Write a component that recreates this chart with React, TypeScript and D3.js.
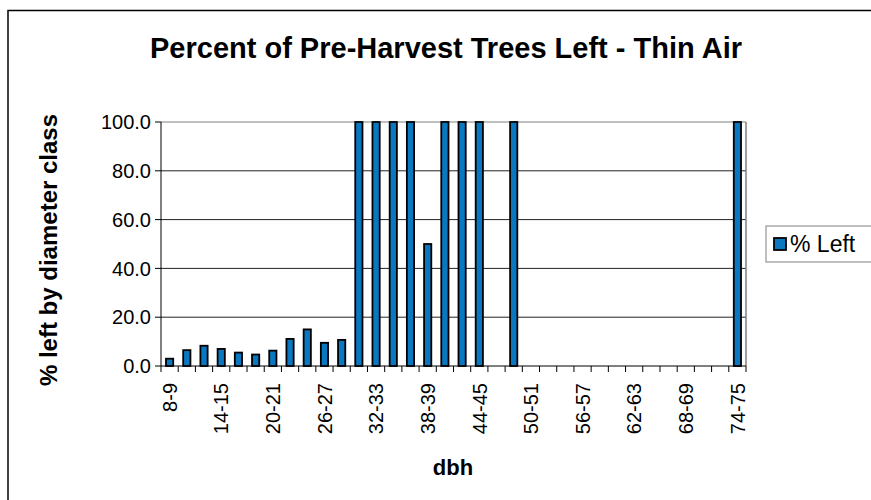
import React from "react";
import * as d3 from "d3";

const categories = [
  "8-9", "10-11", "12-13", "14-15", "16-17", "18-19", "20-21", "22-23", "24-25", "26-27",
  "28-29", "30-31", "32-33", "34-35", "36-37", "38-39", "40-41", "42-43", "44-45", "46-47",
  "48-49", "50-51", "52-53", "54-55", "56-57", "58-59", "60-61", "62-63", "64-65", "66-67",
  "68-69", "70-71", "72-73", "74-75",
];
const percentLeft = [
  3.0, 6.5, 8.3, 7.0, 5.5, 4.7, 6.3, 11.1, 15.0, 9.5,
  10.7, 100, 100, 100, 100, 50, 100, 100, 100, 0,
  100, 0, 0, 0, 0, 0, 0, 0, 0, 0,
  0, 0, 0, 100,
];
const shownTickLabels = ["8-9", "14-15", "20-21", "26-27", "32-33", "38-39", "44-45", "50-51", "56-57", "62-63", "68-69", "74-75"];
const yTicks = [0, 20, 40, 60, 80, 100];

const FONT = "'Liberation Sans', Arial, Helvetica, sans-serif";
const BAR = "#0a78c0";

export default function App() {
  const left = 161, right = 746, top = 122, bottom = 366;
  const x = d3.scaleBand<string>().domain(categories).range([left, right]).paddingInner(0).paddingOuter(0);
  const y = d3.scaleLinear().domain([0, 100]).range([bottom, top]);
  const bw = x.bandwidth();
  const barW = bw * 0.42;

  return (
    <svg width={871} height={500} style={{ position: "absolute", left: 0, top: 0, background: "#fff" }} fontFamily={FONT}>
      <rect x={0} y={0} width={871} height={500} fill="#fff" />
      <rect x={8} y={10.5} width={900} height={540} fill="none" stroke="#000" strokeWidth={1.5} />
      <text x={446} y={58} textAnchor="middle" fontSize={29} fontWeight="bold">
        Percent of Pre-Harvest Trees Left - Thin Air
      </text>

      {/* gridlines */}
      {yTicks.slice(1).map((t) => (
        <line key={t} x1={left} x2={right} y1={y(t)} y2={y(t)} stroke={t === 100 ? "#808080" : "#222"} strokeWidth={1} />
      ))}
      <line x1={right} x2={right} y1={top} y2={bottom} stroke="#808080" strokeWidth={1.5} />

      {/* bars */}
      {categories.map((c, i) =>
        percentLeft[i] > 0 ? (
          <rect
            key={c}
            x={(x(c) as number) + (bw - barW) / 2}
            y={y(percentLeft[i])}
            width={barW}
            height={y(0) - y(percentLeft[i])}
            fill={BAR}
            stroke="#000"
            strokeWidth={1.8}
          />
        ) : null
      )}

      {/* axes */}
      <line x1={left} x2={left} y1={top} y2={bottom} stroke="#000" strokeWidth={1} />
      <line x1={left} x2={right} y1={bottom} y2={bottom} stroke="#000" strokeWidth={1} />
      {yTicks.map((t) => (
        <g key={t}>
          <line x1={left - 6} x2={left} y1={y(t)} y2={y(t)} stroke="#000" />
          <text x={151} y={y(t)} dy="0.36em" textAnchor="end" fontSize={20}>
            {t.toFixed(1)}
          </text>
        </g>
      ))}
      {categories.concat([""]).map((c, i) => {
        const xx = left + i * bw;
        return <line key={"t" + i} x1={xx} x2={xx} y1={bottom} y2={bottom + 6} stroke="#000" />;
      })}
      {shownTickLabels.map((c) => {
        const cx = (x(c) as number) + bw / 2;
        return (
          <text key={c} transform={`translate(${cx},383) rotate(-90)`} dy="0.36em" textAnchor="end" fontSize={20}>
            {c}
          </text>
        );
      })}

      <text transform={`translate(48,250) rotate(-90)`} dy="0.36em" textAnchor="middle" fontSize={24} fontWeight="bold">
        % left by diameter class
      </text>
      <text x={453} y={475} textAnchor="middle" fontSize={22} fontWeight="bold">
        dbh
      </text>

      {/* legend */}
      <rect x={766} y={226} width={130} height={36} fill="#fff" stroke="#808080" strokeWidth={1} />
      <rect x={774} y={238} width={12} height={12} fill={BAR} stroke="#000" strokeWidth={1.8} />
      <text x={790} y={244} dy="0.36em" fontSize={23}>
        % Left
      </text>
    </svg>
  );
}
